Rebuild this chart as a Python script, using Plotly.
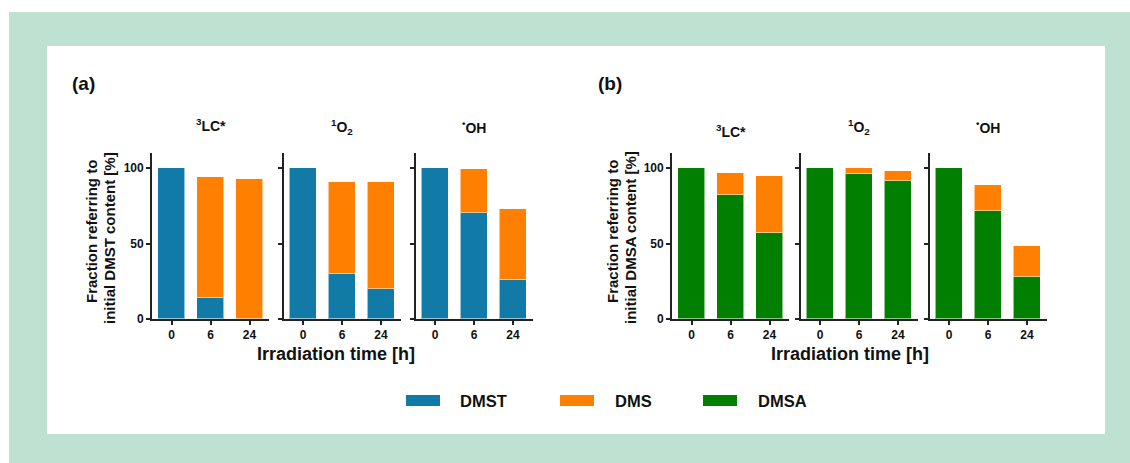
import plotly.graph_objects as go

# Irradiation times and the three reactive species
hours = ["0", "6", "24"]
species = ["<sup>3</sup>LC*", "<sup>1</sup>O<sub>2</sub>", "<sup>•</sup>OH"]

# (a) DMST experiments: remaining DMST and formed DMS, % of initial DMST
dmst_lc = [100, 14, 0]
dmst_o2 = [100, 30, 20]
dmst_oh = [100, 70, 26]
dms_a_lc = [0, 80, 93]
dms_a_o2 = [0, 60.5, 70.5]
dms_a_oh = [0, 29.5, 47]

# (b) DMSA experiments: remaining DMSA and formed DMS, % of initial DMSA
dmsa_lc = [100, 82.5, 57]
dmsa_o2 = [100, 96, 91.5]
dmsa_oh = [100, 71.5, 28]
dms_b_lc = [0, 14, 37.5]
dms_b_o2 = [0, 4, 6.5]
dms_b_oh = [0, 17, 20.5]

y_ticks = [0, 50, 100]

# layout grid (pixels of a 1130 x 463 sheet), converted to paper units
W, H = 1130, 463
FIG_W, FIG_H = 1130, 470
BLUE = "#117AA6"
ORANGE = "#FF7F00"
GREEN = "#007F00"
AXIS = "#222222"
FONT = "Liberation Sans"


def px(x):
    return x / W


def py(y):
    return 1 - y / H


fig = go.Figure()

# left edges of the six panels (pixels) and their common width
panel_left = [152, 283.5, 415.5, 672, 800.5, 929.5]
panel_w = 117
plot_top, plot_bottom = 153, 319

groups = [
    (dmst_lc, dms_a_lc, BLUE, "DMST"),
    (dmst_o2, dms_a_o2, BLUE, "DMST"),
    (dmst_oh, dms_a_oh, BLUE, "DMST"),
    (dmsa_lc, dms_b_lc, GREEN, "DMSA"),
    (dmsa_o2, dms_b_o2, GREEN, "DMSA"),
    (dmsa_oh, dms_b_oh, GREEN, "DMSA"),
]

xpos = list(range(len(hours)))
edge = dict(color="rgba(255,255,255,0.55)", width=1)

for i, (base, dms, col, name) in enumerate(groups):
    n = "" if i == 0 else str(i + 1)
    fig.add_trace(go.Bar(x=xpos, y=base, name=name, marker=dict(color=col, line=edge),
                         width=0.667, xaxis="x" + n, yaxis="y" + n, showlegend=False))
    fig.add_trace(go.Bar(x=xpos, y=dms, name="DMS", marker=dict(color=ORANGE, line=edge),
                         width=0.667, xaxis="x" + n, yaxis="y" + n, showlegend=False))

    left = panel_left[i]
    fig.layout["xaxis" + n] = dict(
        domain=[px(left), px(left + panel_w)], anchor="y" + n, range=[-0.5, 2.5],
        tickvals=xpos, ticktext=hours, ticks="outside", ticklen=4, tickwidth=1.5,
        tickcolor=AXIS, showline=True, linecolor=AXIS, linewidth=1.8,
        showgrid=False, zeroline=False, fixedrange=True,
        tickfont=dict(family=FONT, size=12, color="#111111", weight="bold"))
    fig.layout["yaxis" + n] = dict(
        domain=[py(plot_bottom), py(plot_top)], anchor="x" + n, range=[0, 110],
        tickvals=y_ticks, ticks="outside", ticklen=4, tickwidth=1.5, tickcolor=AXIS,
        showline=True, linecolor=AXIS, linewidth=1.8, showgrid=False, zeroline=False,
        showticklabels=(i % 3 == 0), fixedrange=True,
        tickfont=dict(family=FONT, size=12, color="#111111", weight="bold"))

annotations = []


def text(x, y, s, size, xanchor="center", angle=0):
    annotations.append(dict(
        x=px(x), y=py(y), xref="paper", yref="paper", text=s, showarrow=False,
        xanchor=xanchor, yanchor="middle", textangle=angle,
        font=dict(family=FONT, size=size, color="#111111", weight="bold")))


# panel letters
text(83, 83, "(a)", 19)
text(610, 83, "(b)", 19)

# species titles above each panel
title_y = [125, 127, 127, 131, 127, 127]
for i, left in enumerate(panel_left):
    text(left + panel_w / 2, title_y[i], species[i % 3], 14)

# rotated y-axis titles, one annotation per line
text(92, 232, "Fraction referring to", 15, angle=-90)
text(109, 238, "initial DMST content [%]", 15, angle=-90)
text(613, 232, "Fraction referring to", 15, angle=-90)
text(630, 238, "initial DMSA content [%]", 15, angle=-90)

# x-axis titles
text(336, 354, "Irradiation time [h]", 18)
text(850, 354, "Irradiation time [h]", 18)

# frame and legend
shapes = [
    dict(type="rect", xref="paper", yref="paper", x0=px(9), x1=1, y0=0, y1=py(12),
         fillcolor="#BFE1D2", line=dict(width=0), layer="below"),
    dict(type="rect", xref="paper", yref="paper", x0=px(47), x1=px(1105), y0=py(434), y1=py(46),
         fillcolor="#FFFFFF", line=dict(width=0), layer="below"),
]
legend_items = [("DMST", BLUE, 406, 459), ("DMS", ORANGE, 560, 614), ("DMSA", GREEN, 703, 757)]
for label, col, sx, tx in legend_items:
    shapes.append(dict(type="rect", xref="paper", yref="paper", x0=px(sx), x1=px(sx + 34),
                       y0=py(406), y1=py(395), fillcolor=col, line=dict(width=0)))
    text(tx - 1, 401, label, 16.5, xanchor="left")

fig.update_layout(
    width=FIG_W, height=FIG_H, autosize=False, margin=dict(l=0, r=0, t=0, b=0),
    barmode="stack", bargap=0, paper_bgcolor="#FFFFFF", plot_bgcolor="rgba(0,0,0,0)",
    shapes=shapes, annotations=annotations, showlegend=False,
    font=dict(family=FONT, color="#111111"),
)

# keep the page free of margins and scrollbars
page_css = ("document.documentElement.style.margin='0';"
            "document.body.style.margin='0';"
            "document.documentElement.style.overflow='hidden';"
            "document.body.style.overflow='hidden';")

fig.write_html("out.html", config={"displayModeBar": False}, post_script=page_css)
